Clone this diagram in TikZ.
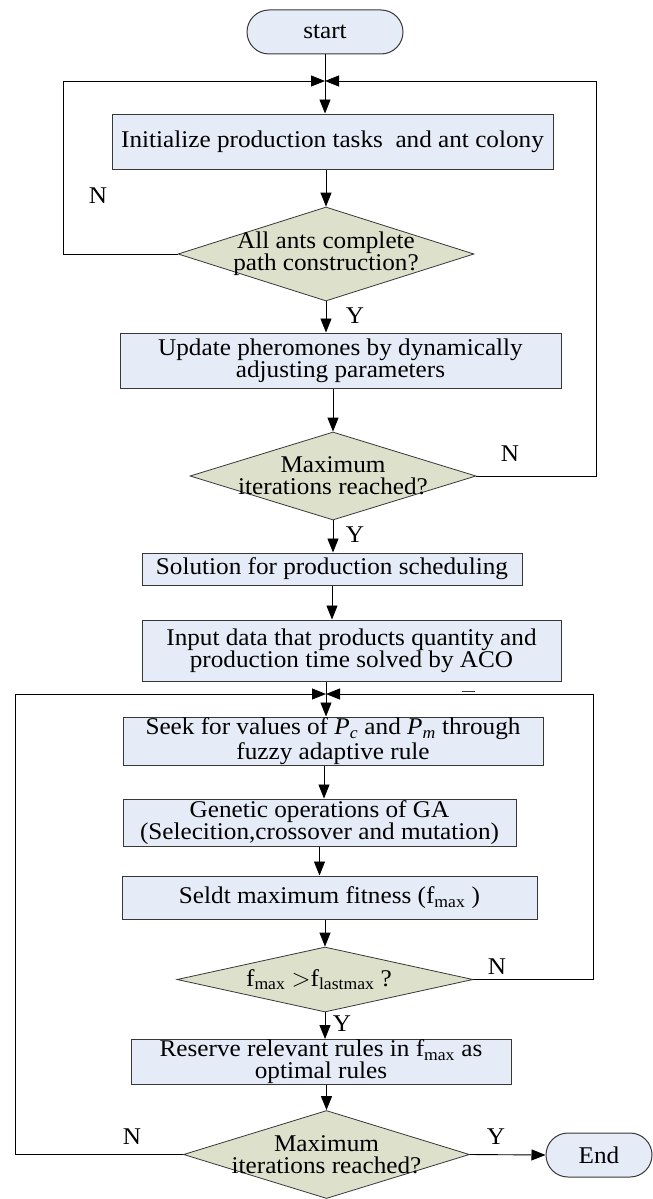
\documentclass[tikz,border=0pt]{standalone}
\usepackage{fontspec}
\setmainfont{Liberation Serif}[FakeStretch=1.05]
\usetikzlibrary{arrows.meta,shapes.geometric}
\definecolor{boxfill}{RGB}{230,236,247}
\definecolor{diafill}{RGB}{221,225,204}
\definecolor{edge}{RGB}{55,55,55}
\begin{document}
\begin{tikzpicture}[x=1pt,y=-1pt,
  font=\fontsize{24}{22}\selectfont,
  procbox/.style={draw=edge, line width=1pt, fill=boxfill, rectangle, inner sep=0pt, align=center},
  termbox/.style={draw=edge, line width=1pt, fill=boxfill, rectangle, rounded corners=22pt, inner sep=0pt},
  decbox/.style={draw=edge, line width=0.8pt, fill=diafill, diamond, inner sep=0pt},
  dectext/.style={align=center, inner sep=0pt},
  conn/.style={line width=0.9pt, black},
  arr/.style={conn, -{Triangle[length=14pt,width=11pt]}},
  lbl/.style={inner sep=0pt}]
\useasboundingbox (0,0) rectangle (653,1199);

% nodes
\node[termbox, minimum width=156pt, minimum height=44pt] (start) at (325,32) {start};
\coordinate (m1) at (325,81);
\node[procbox, minimum width=441pt, minimum height=55pt] (init) at (332.5,141.5) {Initialize production tasks\ \ and ant colony};
\node[decbox, minimum width=296pt, minimum height=94pt] (d1) at (326,254) {};
\node[dectext] (d1t) at (d1.center) {All ants complete\\path construction?};
\node[procbox, minimum width=441pt, minimum height=55pt] (update) at (340.5,360.5) {Update pheromones by dynamically\\adjusting parameters};
\node[decbox, minimum width=286pt, minimum height=88pt] (d2) at (333,476) {};
\node[dectext] (d2t) at (d2.center) {Maximum\\iterations reached?};
\node[procbox, minimum width=380pt, minimum height=32pt] (sol) at (332,569) {Solution for production scheduling};
\node[procbox, minimum width=419pt, minimum height=61pt] (input) at (351.5,650.5) {Input data that products quantity and\\production time solved by ACO};
\coordinate (m2) at (326,694);
\node[procbox, minimum width=420pt, minimum height=48pt, font=\fontsize{24}{25}\selectfont] (seek) at (333,741) {Seek for values of \textit{P}\textsubscript{\textit{c}} and \textit{P}\textsubscript{\textit{m}} through\\fuzzy adaptive rule};
\node[procbox, minimum width=393pt, minimum height=47pt] (gen) at (319.5,822.5) {Genetic operations of GA\\(Selecition,crossover and mutation)};
\node[procbox, minimum width=415pt, minimum height=43pt] (seldt) at (329.5,897.5) {Seldt maximum fitness (f\textsubscript{max} )};
\node[decbox, minimum width=296pt, minimum height=65pt] (d3) at (325,979.5) {};
\node[dectext] (d3t) at ([xshift=-6pt]d3.center) {f\textsubscript{max} $>$f\textsubscript{lastmax} ?};
\node[procbox, minimum width=380pt, minimum height=45pt] (res) at (321,1062) {Reserve relevant rules in f\textsubscript{max} as\\optimal rules};
\node[decbox, minimum width=286pt, minimum height=88pt] (d4) at (326.5,1154.5) {};
\node[dectext] (d4t) at (d4.center) {Maximum\\iterations reached?};
\node[termbox, minimum width=106pt, minimum height=44pt] (end) at (599,1155) {End};

% corner coordinates of the loops
\coordinate (c1) at (63,81);
\coordinate (c2) at (596,81);
\coordinate (c3) at (593,694);
\coordinate (c4) at (15,694);

% main flow
\draw[conn] (start.south) -- (m1);
\draw[arr] (m1) -- (m1 |- init.north);
\draw[arr] (init.south -| d1.north) -- (d1.north);
\draw[arr] (d1.south) -- (d1.south |- update.north);
\draw[arr] (update.south -| d2.north) -- (d2.north);
\draw[arr] (d2.south) -- (d2.south |- sol.north);
\draw[arr] (sol.south) -- (sol.south |- input.north);
\draw[conn] (input.south -| m2) -- (m2);
\draw[arr] (m2) -- (m2 |- seek.north);
\draw[arr] ([xshift=-9pt]seek.south) -- ([xshift=-9pt]seek.south |- gen.north);
\draw[arr] (gen.south) -- (gen.south |- seldt.north);
\draw[arr] (seldt.south -| d3.north) -- (d3.north);
\draw[arr] (d3.south) -- (d3.south |- res.north);
\draw[arr] (res.south -| d4.north) -- (d4.north);
\draw[arr] (d4.east) -- (end.west);

% loops
\draw[arr] (d1.west) -| (c1) -- (m1);
\draw[arr] (d2.east) -| (c2) -- (m1);
\draw[arr] (d3.east) -| (c3) -- (m2);
\draw[arr] (d4.west) -| (c4) -- (m2);
\draw[line width=1.5pt, edge] (462,691.5) -- (475,691.5);

% labels
\node[lbl] (n1) at (98,196) {N};
\node[lbl] (y1) at (355,316) {Y};
\node[lbl] (n2) at (510,454) {N};
\node[lbl] (y2) at (355,535) {Y};
\node[lbl] (n3) at (497,967) {N};
\node[lbl] (y3) at (342,1024) {Y};
\node[lbl] (n4) at (132,1137) {N};
\node[lbl] (y4) at (496,1137) {Y};
\end{tikzpicture}
\end{document}
